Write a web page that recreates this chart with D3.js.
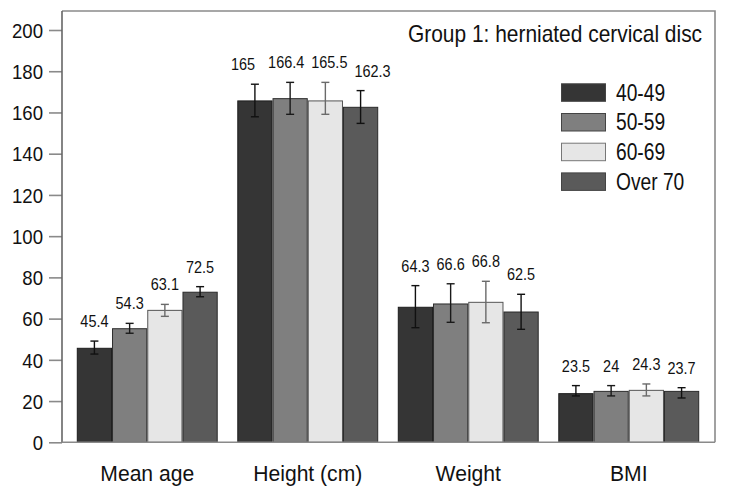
<!DOCTYPE html>
<html><head><meta charset="utf-8">
<script src="https://cdn.jsdelivr.net/npm/d3@7"></script>
<style>body{margin:0;background:#fff}svg{display:block}</style>
</head><body><svg id="c" width="729" height="495"></svg>
<script>
const categories = ["Mean age", "Height (cm)", "Weight", "BMI"];
const seriesNames = ["40-49", "50-59", "60-69", "Over 70"];
// bar heights, per series (one value per category)
const s4049 = [45.6, 165.6, 65.5, 23.6];
const s5059 = [55.1, 166.7, 67.1, 24.7];
const s6069 = [64.0, 165.6, 67.9, 25.2];
const sOver70 = [72.8, 162.5, 63.2, 24.7];
// printed value labels
const lab4049 = ["45.4", "165", "64.3", "23.5"];
const lab5059 = ["54.3", "166.4", "66.6", "24"];
const lab6069 = ["63.1", "165.5", "66.8", "24.3"];
const labOver70 = ["72.5", "162.3", "62.5", "23.7"];
// error bar bounds
const lo4049 = [42.8, 157.9, 55.6, 22.5], hi4049 = [49.1, 173.7, 76.0, 27.5];
const lo5059 = [52.9, 159.1, 58.2, 22.5], hi5059 = [57.7, 174.6, 76.9, 27.5];
const lo6069 = [61.1, 159.1, 58.0, 22.5], hi6069 = [66.9, 174.6, 78.1, 28.3];
const loOver70 = [70.6, 154.7, 54.8, 21.5], hiOver70 = [75.5, 170.6, 71.8, 26.5];
const yTicks = [0, 20, 40, 60, 80, 100, 120, 140, 160, 180, 200];
const title = "Group 1: herniated cervical disc";

const seriesVals = [s4049, s5059, s6069, sOver70];
const seriesLabs = [lab4049, lab5059, lab6069, labOver70];
const seriesLo = [lo4049, lo5059, lo6069, loOver70];
const seriesHi = [hi4049, hi5059, hi6069, hiOver70];
const fills = ["#353535", "#7f7f7f", "#e6e6e6", "#5a5a5a"];
const strokes = ["#1e1e1e", "#2e2e2e", "#555", "#2a2a2a"];
const errCol = ["#111", "#1a1a1a", "#6a6a6a", "#111"];

const FONT = "'Liberation Sans',Arial,sans-serif";
const svg = d3.select("#c");
const L = 62, R = 715, T = 11, B = 442.3;

const y = d3.scaleLinear().domain([0, 200]).range([B, 30]);
const x0 = d3.scaleBand().domain(categories).range([67, 709]).paddingInner(0.122).paddingOuter(0.061);
const x1 = d3.scaleBand().domain(seriesNames).range([0, x0.bandwidth()]).padding(0);

// frame (top + right)
svg.append("path").attr("d", `M${L},${T}H${R}V${B}`).attr("fill", "none")
  .attr("stroke", "#8a8a8a").attr("stroke-width", 1.6);

const rows = [];
categories.forEach((c, ci) => seriesNames.forEach((s, si) => rows.push({
  c, s, si, v: seriesVals[si][ci], lab: seriesLabs[si][ci], lo: seriesLo[si][ci], hi: seriesHi[si][ci]
})));

const g = svg.append("g");
g.selectAll("rect.bar").data(rows).join("rect").attr("class", "bar")
  .attr("x", d => x0(d.c) + x1(d.s) + 0.5)
  .attr("y", d => y(d.v))
  .attr("width", x1.bandwidth() - 1)
  .attr("height", d => B - y(d.v))
  .attr("fill", d => fills[d.si]).attr("stroke", d => strokes[d.si]).attr("stroke-width", 1);

// error bars
const eg = g.selectAll("g.err").data(rows).join("g").attr("class", "err")
  .attr("stroke", d => errCol[d.si]).attr("stroke-width", 1.4);
const cx = d => x0(d.c) + x1(d.s) + x1.bandwidth() / 2;
eg.append("line").attr("x1", cx).attr("x2", cx).attr("y1", d => y(d.hi)).attr("y2", d => y(d.lo));
eg.append("line").attr("x1", d => cx(d) - 4).attr("x2", d => cx(d) + 4).attr("y1", d => y(d.hi)).attr("y2", d => y(d.hi));
eg.append("line").attr("x1", d => cx(d) - 4).attr("x2", d => cx(d) + 4).attr("y1", d => y(d.lo)).attr("y2", d => y(d.lo));

// value labels (condensed), spread apart within a group when they would collide
const KX = 0.85, GAP = 7;
const vl = g.selectAll("text.val").data(rows).join("text").attr("class", "val")
  .attr("text-anchor", "middle").attr("font-family", FONT).attr("font-size", 17)
  .attr("fill", "#111").text(d => d.lab);
vl.each(function (d) { d.w = this.getComputedTextLength() * KX; });
categories.forEach(c => {
  const grp = rows.filter(r => r.c === c);
  let step = x1.bandwidth();
  for (let i = 1; i < grp.length; i++) step = Math.max(step, (grp[i - 1].w + grp[i].w) / 2 + GAP);
  const mid = x0(c) + x0.bandwidth() / 2;
  grp.forEach((r, i) => { r.lx = mid + (i - (grp.length - 1) / 2) * step; });
});
vl.attr("transform", d => `translate(${d.lx},${y(d.hi) - 14}) scale(${KX},1)`);

// y axis
const ya = svg.append("g").attr("transform", `translate(${L},0)`)
  .call(d3.axisLeft(y).tickValues(yTicks).tickSize(13).tickPadding(6));
ya.select(".domain").remove();
ya.selectAll(".tick line").attr("stroke", "#8a8a8a").attr("stroke-width", 1.6);
ya.selectAll(".tick text").attr("font-family", FONT).attr("font-size", 20).attr("fill", "#111")
  .attr("x", 0).attr("dy", "0.36em").attr("transform", "translate(-19,0) scale(0.93,1)");
svg.append("line").attr("x1", L).attr("x2", L).attr("y1", T).attr("y2", B)
  .attr("stroke", "#666").attr("stroke-width", 1.6);

// x axis
const xa = svg.append("g").attr("transform", `translate(0,${B})`)
  .call(d3.axisBottom(x0).tickSize(0));
xa.select(".domain").attr("stroke", "#8a8a8a").attr("stroke-width", 1.6).attr("d", `M${L},0H${R}`);
xa.selectAll(".tick text").attr("font-family", FONT).attr("font-size", 22).attr("fill", "#111")
  .attr("y", 0).attr("dy", "0").attr("transform", "translate(0,39) scale(0.96,1)");

// title
svg.append("text").attr("transform", "translate(408,41.5) scale(0.91,1)").attr("font-family", FONT).attr("font-size", 23)
  .attr("fill", "#111").text(title);

// legend
const leg = svg.append("g").selectAll("g").data(seriesNames).join("g")
  .attr("transform", (d, i) => `translate(561,${83.3 + i * 29.7})`);
leg.append("rect").attr("x", 0.5).attr("y", 0.5).attr("width", 44).attr("height", 17.5)
  .attr("fill", (d, i) => fills[i]).attr("stroke", (d, i) => i === 2 ? "#777" : "#444").attr("stroke-width", 1);
leg.append("text").attr("transform", "translate(55,17.4) scale(0.8,1)").attr("font-family", FONT).attr("font-size", 24)
  .attr("fill", "#111").text(d => d);
</script>
</body></html>
